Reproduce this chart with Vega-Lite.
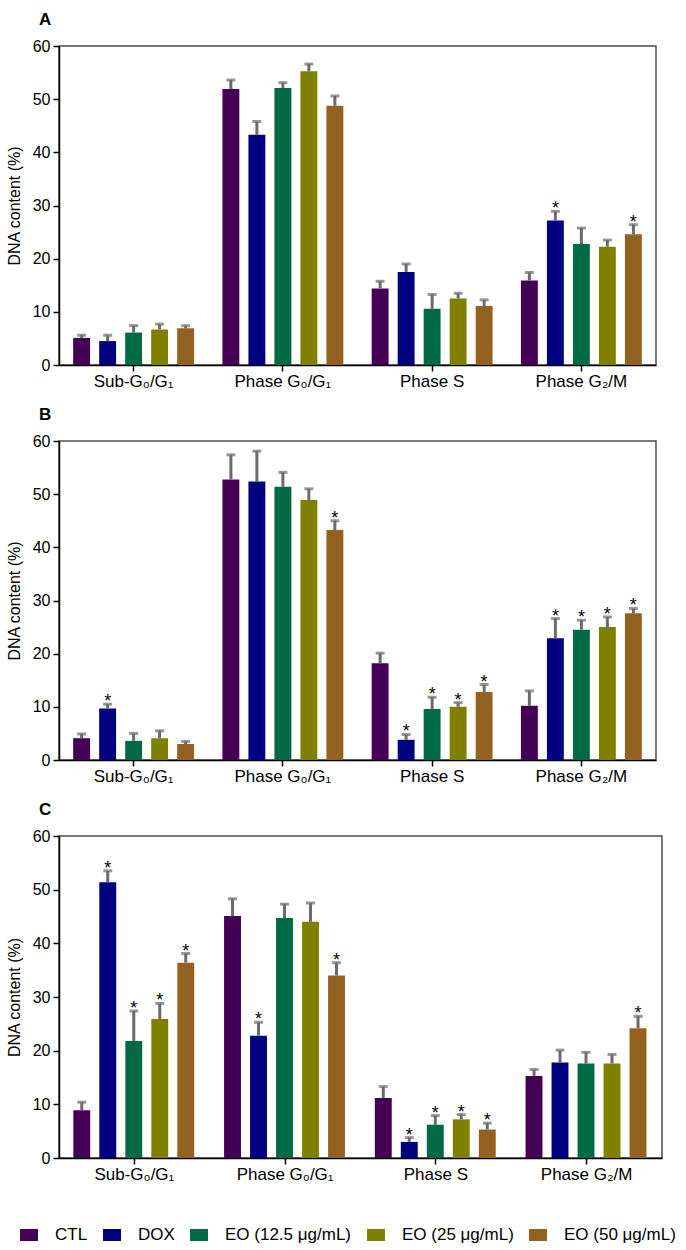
{
  "$schema": "https://vega.github.io/schema/vega-lite/v6.json",
  "padding": {"left": 5, "top": 10, "right": 5, "bottom": 3},
  "data": {"values": [
    {"panel": "A", "phase": "Sub-G₀/G₁", "group": "CTL", "value": 5.1, "upper": 5.6, "sig": false},
    {"panel": "A", "phase": "Sub-G₀/G₁", "group": "DOX", "value": 4.5, "upper": 5.6, "sig": false},
    {"panel": "A", "phase": "Sub-G₀/G₁", "group": "EO (12.5 μg/mL)", "value": 6.1, "upper": 7.4, "sig": false},
    {"panel": "A", "phase": "Sub-G₀/G₁", "group": "EO (25 μg/mL)", "value": 6.7, "upper": 7.7, "sig": false},
    {"panel": "A", "phase": "Sub-G₀/G₁", "group": "EO (50 μg/mL)", "value": 6.9, "upper": 7.4, "sig": false},
    {"panel": "A", "phase": "Phase G₀/G₁", "group": "CTL", "value": 51.9, "upper": 53.6, "sig": false},
    {"panel": "A", "phase": "Phase G₀/G₁", "group": "DOX", "value": 43.3, "upper": 45.8, "sig": false},
    {"panel": "A", "phase": "Phase G₀/G₁", "group": "EO (12.5 μg/mL)", "value": 52.1, "upper": 53.1, "sig": false},
    {"panel": "A", "phase": "Phase G₀/G₁", "group": "EO (25 μg/mL)", "value": 55.25, "upper": 56.6, "sig": false},
    {"panel": "A", "phase": "Phase G₀/G₁", "group": "EO (50 μg/mL)", "value": 48.75, "upper": 50.6, "sig": false},
    {"panel": "A", "phase": "Phase S", "group": "CTL", "value": 14.4, "upper": 15.75, "sig": false},
    {"panel": "A", "phase": "Phase S", "group": "DOX", "value": 17.5, "upper": 19.0, "sig": false},
    {"panel": "A", "phase": "Phase S", "group": "EO (12.5 μg/mL)", "value": 10.6, "upper": 13.25, "sig": false},
    {"panel": "A", "phase": "Phase S", "group": "EO (25 μg/mL)", "value": 12.5, "upper": 13.5, "sig": false},
    {"panel": "A", "phase": "Phase S", "group": "EO (50 μg/mL)", "value": 11.1, "upper": 12.25, "sig": false},
    {"panel": "A", "phase": "Phase G₂/M", "group": "CTL", "value": 15.9, "upper": 17.4, "sig": false},
    {"panel": "A", "phase": "Phase G₂/M", "group": "DOX", "value": 27.2, "upper": 28.9, "sig": true},
    {"panel": "A", "phase": "Phase G₂/M", "group": "EO (12.5 μg/mL)", "value": 22.75, "upper": 25.75, "sig": false},
    {"panel": "A", "phase": "Phase G₂/M", "group": "EO (25 μg/mL)", "value": 22.25, "upper": 23.5, "sig": false},
    {"panel": "A", "phase": "Phase G₂/M", "group": "EO (50 μg/mL)", "value": 24.6, "upper": 26.4, "sig": true},

    {"panel": "B", "phase": "Sub-G₀/G₁", "group": "CTL", "value": 4.1, "upper": 4.9, "sig": false},
    {"panel": "B", "phase": "Sub-G₀/G₁", "group": "DOX", "value": 9.7, "upper": 10.5, "sig": true},
    {"panel": "B", "phase": "Sub-G₀/G₁", "group": "EO (12.5 μg/mL)", "value": 3.6, "upper": 5.0, "sig": false},
    {"panel": "B", "phase": "Sub-G₀/G₁", "group": "EO (25 μg/mL)", "value": 4.1, "upper": 5.5, "sig": false},
    {"panel": "B", "phase": "Sub-G₀/G₁", "group": "EO (50 μg/mL)", "value": 3.0, "upper": 3.5, "sig": false},
    {"panel": "B", "phase": "Phase G₀/G₁", "group": "CTL", "value": 52.75, "upper": 57.4, "sig": false},
    {"panel": "B", "phase": "Phase G₀/G₁", "group": "DOX", "value": 52.4, "upper": 58.1, "sig": false},
    {"panel": "B", "phase": "Phase G₀/G₁", "group": "EO (12.5 μg/mL)", "value": 51.4, "upper": 54.1, "sig": false},
    {"panel": "B", "phase": "Phase G₀/G₁", "group": "EO (25 μg/mL)", "value": 48.9, "upper": 51.0, "sig": false},
    {"panel": "B", "phase": "Phase G₀/G₁", "group": "EO (50 μg/mL)", "value": 43.25, "upper": 45.0, "sig": true},
    {"panel": "B", "phase": "Phase S", "group": "CTL", "value": 18.2, "upper": 20.1, "sig": false},
    {"panel": "B", "phase": "Phase S", "group": "DOX", "value": 3.8, "upper": 4.8, "sig": true},
    {"panel": "B", "phase": "Phase S", "group": "EO (12.5 μg/mL)", "value": 9.6, "upper": 11.8, "sig": true},
    {"panel": "B", "phase": "Phase S", "group": "EO (25 μg/mL)", "value": 10.0, "upper": 10.8, "sig": true},
    {"panel": "B", "phase": "Phase S", "group": "EO (50 μg/mL)", "value": 12.8, "upper": 14.2, "sig": true},
    {"panel": "B", "phase": "Phase G₂/M", "group": "CTL", "value": 10.2, "upper": 13.0, "sig": false},
    {"panel": "B", "phase": "Phase G₂/M", "group": "DOX", "value": 22.9, "upper": 26.6, "sig": true},
    {"panel": "B", "phase": "Phase G₂/M", "group": "EO (12.5 μg/mL)", "value": 24.5, "upper": 26.3, "sig": true},
    {"panel": "B", "phase": "Phase G₂/M", "group": "EO (25 μg/mL)", "value": 25.0, "upper": 26.9, "sig": true},
    {"panel": "B", "phase": "Phase G₂/M", "group": "EO (50 μg/mL)", "value": 27.6, "upper": 28.5, "sig": true},

    {"panel": "C", "phase": "Sub-G₀/G₁", "group": "CTL", "value": 8.9, "upper": 10.4, "sig": false},
    {"panel": "C", "phase": "Sub-G₀/G₁", "group": "DOX", "value": 51.4, "upper": 53.5, "sig": true},
    {"panel": "C", "phase": "Sub-G₀/G₁", "group": "EO (12.5 μg/mL)", "value": 21.8, "upper": 27.4, "sig": true},
    {"panel": "C", "phase": "Sub-G₀/G₁", "group": "EO (25 μg/mL)", "value": 25.9, "upper": 28.8, "sig": true},
    {"panel": "C", "phase": "Sub-G₀/G₁", "group": "EO (50 μg/mL)", "value": 36.4, "upper": 38.1, "sig": true},
    {"panel": "C", "phase": "Phase G₀/G₁", "group": "CTL", "value": 45.1, "upper": 48.3, "sig": false},
    {"panel": "C", "phase": "Phase G₀/G₁", "group": "DOX", "value": 22.8, "upper": 25.3, "sig": true},
    {"panel": "C", "phase": "Phase G₀/G₁", "group": "EO (12.5 μg/mL)", "value": 44.7, "upper": 47.3, "sig": false},
    {"panel": "C", "phase": "Phase G₀/G₁", "group": "EO (25 μg/mL)", "value": 44.0, "upper": 47.5, "sig": false},
    {"panel": "C", "phase": "Phase G₀/G₁", "group": "EO (50 μg/mL)", "value": 34.0, "upper": 36.4, "sig": true},
    {"panel": "C", "phase": "Phase S", "group": "CTL", "value": 11.2, "upper": 13.3, "sig": false},
    {"panel": "C", "phase": "Phase S", "group": "DOX", "value": 3.0, "upper": 3.8, "sig": true},
    {"panel": "C", "phase": "Phase S", "group": "EO (12.5 μg/mL)", "value": 6.2, "upper": 7.9, "sig": true},
    {"panel": "C", "phase": "Phase S", "group": "EO (25 μg/mL)", "value": 7.2, "upper": 8.1, "sig": true},
    {"panel": "C", "phase": "Phase S", "group": "EO (50 μg/mL)", "value": 5.3, "upper": 6.5, "sig": true},
    {"panel": "C", "phase": "Phase G₂/M", "group": "CTL", "value": 15.3, "upper": 16.5, "sig": false},
    {"panel": "C", "phase": "Phase G₂/M", "group": "DOX", "value": 17.8, "upper": 20.1, "sig": false},
    {"panel": "C", "phase": "Phase G₂/M", "group": "EO (12.5 μg/mL)", "value": 17.6, "upper": 19.7, "sig": false},
    {"panel": "C", "phase": "Phase G₂/M", "group": "EO (25 μg/mL)", "value": 17.6, "upper": 19.3, "sig": false},
    {"panel": "C", "phase": "Phase G₂/M", "group": "EO (50 μg/mL)", "value": 24.2, "upper": 26.4, "sig": true}
  ]},
  "config": {
    "font": "Liberation Sans",
    "view": {"stroke": "#4d4d4d", "strokeWidth": 1.5},
    "concat": {"spacing": 76},
    "axis": {"domainColor": "#000000", "domainWidth": 1.5, "tickColor": "#000000", "tickWidth": 1.5, "tickSize": 6, "grid": false, "labelColor": "#000000", "labelFont": "Liberation Sans", "titleFont": "Liberation Sans", "titleFontWeight": "normal", "titleColor": "#000000"},
    "axisY": {"labelFontSize": 16, "titleFontSize": 16, "labelPadding": 3, "titlePadding": 10},
    "axisX": {"labelFontSize": 17, "labelPadding": 2, "labelAngle": 0},
    "title": {"font": "Liberation Sans", "fontSize": 17, "fontWeight": "bold", "anchor": "start", "frame": "group", "color": "#000000"}
  },
  "bounds": "flush",
  "resolve": {"scale": {"color": "independent"}, "legend": {"color": "independent"}},
  "vconcat": [
    {
      "title": {"text": "A", "dx": -20, "offset": 9},
      "width": 597, "height": 319,
      "transform": [{"filter": "datum.panel == 'A'"}],
      "encoding": {
        "x": {"field": "phase", "type": "nominal", "sort": ["Sub-G₀/G₁", "Phase G₀/G₁", "Phase S", "Phase G₂/M"], "scale": {"paddingInner": 0.19, "paddingOuter": 0.095}, "axis": {"title": null}},
        "xOffset": {"field": "group", "type": "nominal", "sort": ["CTL", "DOX", "EO (12.5 μg/mL)", "EO (25 μg/mL)", "EO (50 μg/mL)"], "scale": {"paddingInner": 0.35, "paddingOuter": 0}}
      },
      "layer": [
        {"mark": {"type": "bar"}, "encoding": {
          "y": {"field": "value", "type": "quantitative", "scale": {"domain": [0, 60]}, "title": "DNA content (%)", "axis": {"values": [0, 10, 20, 30, 40, 50, 60]}},
          "color": {"field": "group", "type": "nominal", "scale": {"domain": ["CTL", "DOX", "EO (12.5 μg/mL)", "EO (25 μg/mL)", "EO (50 μg/mL)"], "range": ["#440055", "#000080", "#006a45", "#808000", "#946220"]}, "legend": null}}},
        {"mark": {"type": "rule", "color": "#6b6b6b", "strokeWidth": 3}, "encoding": {"y": {"field": "value", "type": "quantitative", "title": "DNA content (%)"}, "y2": {"field": "upper"}}},
        {"mark": {"type": "tick", "color": "#6b6b6b", "thickness": 3, "size": 9}, "encoding": {"y": {"field": "upper", "type": "quantitative", "title": "DNA content (%)"}}},
        {"transform": [{"filter": "datum.sig"}], "mark": {"type": "text", "text": "*", "fontSize": 18, "baseline": "alphabetic", "dy": 3, "color": "#000000"}, "encoding": {"y": {"field": "upper", "type": "quantitative", "title": "DNA content (%)"}}}
      ]
    },
    {
      "title": {"text": "B", "dx": -20, "offset": 9},
      "width": 597, "height": 319,
      "transform": [{"filter": "datum.panel == 'B'"}],
      "encoding": {
        "x": {"field": "phase", "type": "nominal", "sort": ["Sub-G₀/G₁", "Phase G₀/G₁", "Phase S", "Phase G₂/M"], "scale": {"paddingInner": 0.19, "paddingOuter": 0.095}, "axis": {"title": null}},
        "xOffset": {"field": "group", "type": "nominal", "sort": ["CTL", "DOX", "EO (12.5 μg/mL)", "EO (25 μg/mL)", "EO (50 μg/mL)"], "scale": {"paddingInner": 0.35, "paddingOuter": 0}}
      },
      "layer": [
        {"mark": {"type": "bar"}, "encoding": {
          "y": {"field": "value", "type": "quantitative", "scale": {"domain": [0, 60]}, "title": "DNA content (%)", "axis": {"values": [0, 10, 20, 30, 40, 50, 60]}},
          "color": {"field": "group", "type": "nominal", "scale": {"domain": ["CTL", "DOX", "EO (12.5 μg/mL)", "EO (25 μg/mL)", "EO (50 μg/mL)"], "range": ["#440055", "#000080", "#006a45", "#808000", "#946220"]}, "legend": null}}},
        {"mark": {"type": "rule", "color": "#6b6b6b", "strokeWidth": 3}, "encoding": {"y": {"field": "value", "type": "quantitative", "title": "DNA content (%)"}, "y2": {"field": "upper"}}},
        {"mark": {"type": "tick", "color": "#6b6b6b", "thickness": 3, "size": 9}, "encoding": {"y": {"field": "upper", "type": "quantitative", "title": "DNA content (%)"}}},
        {"transform": [{"filter": "datum.sig"}], "mark": {"type": "text", "text": "*", "fontSize": 18, "baseline": "alphabetic", "dy": 3, "color": "#000000"}, "encoding": {"y": {"field": "upper", "type": "quantitative", "title": "DNA content (%)"}}}
      ]
    },
    {
      "title": {"text": "C", "dx": -20, "offset": 9},
      "width": 603, "height": 322,
      "transform": [{"filter": "datum.panel == 'C'"}],
      "encoding": {
        "x": {"field": "phase", "type": "nominal", "sort": ["Sub-G₀/G₁", "Phase G₀/G₁", "Phase S", "Phase G₂/M"], "scale": {"paddingInner": 0.19, "paddingOuter": 0.095}, "axis": {"title": null}},
        "xOffset": {"field": "group", "type": "nominal", "sort": ["CTL", "DOX", "EO (12.5 μg/mL)", "EO (25 μg/mL)", "EO (50 μg/mL)"], "scale": {"paddingInner": 0.35, "paddingOuter": 0}}
      },
      "layer": [
        {"mark": {"type": "bar"}, "encoding": {
          "y": {"field": "value", "type": "quantitative", "scale": {"domain": [0, 60]}, "title": "DNA content (%)", "axis": {"values": [0, 10, 20, 30, 40, 50, 60]}},
          "color": {"field": "group", "type": "nominal", "scale": {"domain": ["CTL", "DOX", "EO (12.5 μg/mL)", "EO (25 μg/mL)", "EO (50 μg/mL)"], "range": ["#440055", "#000080", "#006a45", "#808000", "#946220"]},
            "legend": {"orient": "none", "legendX": -39, "legendY": 390, "direction": "horizontal", "title": null, "symbolType": "M-1,-0.667H1V0.667H-1Z", "symbolSize": 324, "symbolStrokeWidth": 0, "labelFontSize": 17, "labelFont": "Liberation Sans", "labelColor": "#000000", "labelOffset": 17, "columnPadding": 15, "labelLimit": 400}}}},
        {"mark": {"type": "rule", "color": "#6b6b6b", "strokeWidth": 3}, "encoding": {"y": {"field": "value", "type": "quantitative", "title": "DNA content (%)"}, "y2": {"field": "upper"}}},
        {"mark": {"type": "tick", "color": "#6b6b6b", "thickness": 3, "size": 9}, "encoding": {"y": {"field": "upper", "type": "quantitative", "title": "DNA content (%)"}}},
        {"transform": [{"filter": "datum.sig"}], "mark": {"type": "text", "text": "*", "fontSize": 18, "baseline": "alphabetic", "dy": 3, "color": "#000000"}, "encoding": {"y": {"field": "upper", "type": "quantitative", "title": "DNA content (%)"}}}
      ]
    }
  ]
}
